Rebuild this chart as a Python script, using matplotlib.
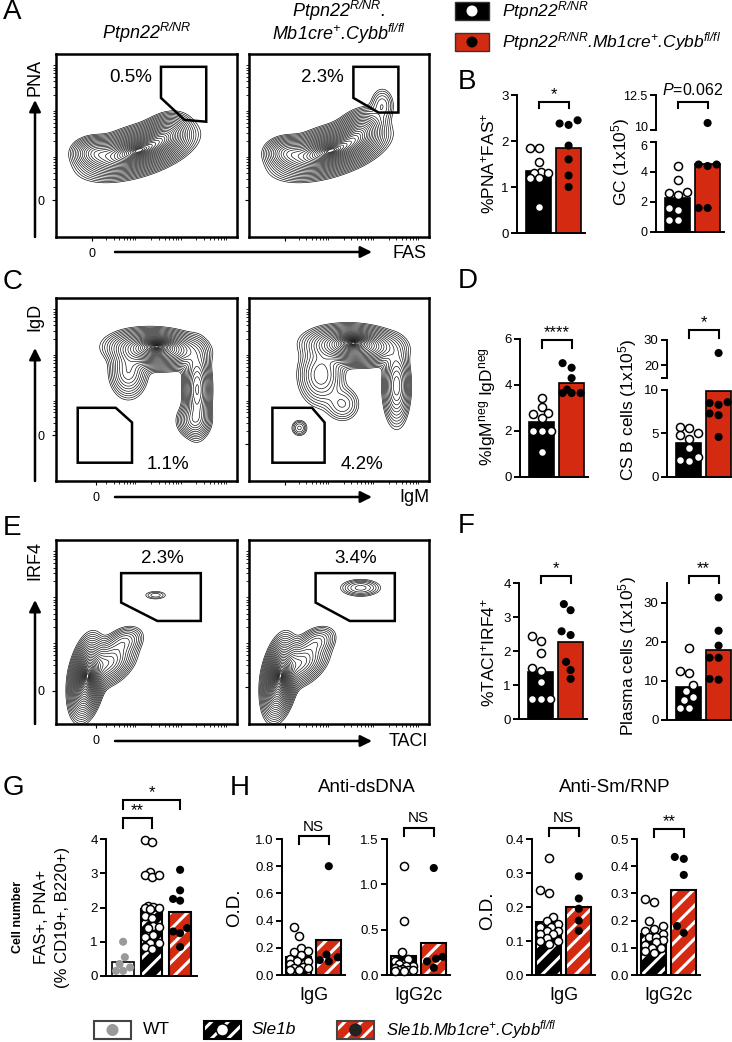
import numpy as np
import matplotlib
matplotlib.use("Agg")
import matplotlib.pyplot as plt
from matplotlib.patches import Rectangle, Circle, Polygon
from matplotlib.transforms import ScaledTranslation

plt.rcParams['font.family'] = 'Liberation Sans'
plt.rcParams['mathtext.fontset'] = 'custom'
plt.rcParams['mathtext.rm'] = 'Liberation Sans'
plt.rcParams['mathtext.it'] = 'Liberation Sans:italic'
plt.rcParams['mathtext.bf'] = 'Liberation Sans:bold'
plt.rcParams['mathtext.default'] = 'regular'
plt.rcParams['hatch.linewidth'] = 2.2

W, H = 732, 1042
RED = '#d42a12'
GREY = '#9a9a9a'

# ---------------- data ----------------
# B: %PNA+FAS+ and GC number
pna_ctrl = [1.85, 1.85, 1.55, 1.32, 1.30, 1.30, 1.20, 1.20, 0.57]
pna_ko = [2.35, 2.45, 2.38, 1.90, 1.60, 1.25, 1.00]
gc_ctrl = [4.4, 3.5, 2.7, 2.6, 2.5, 1.6, 1.5, 0.8, 0.8]
gc_ko = [10.5, 4.5, 4.5, 4.4, 1.6, 1.6]
# D: %IgMneg IgDneg and CS B cells
cs_pct_ctrl = [3.45, 3.05, 2.80, 2.75, 2.55, 2.0, 2.0, 2.0, 1.1]
cs_pct_ko = [4.95, 4.75, 4.30, 3.65, 3.65, 3.65, 3.80]
cs_num_ctrl = [5.8, 5.6, 5.0, 4.8, 4.4, 3.3, 2.3, 1.9, 1.8]
cs_num_ko = [24.8, 8.6, 8.3, 8.5, 7.3, 7.1, 4.6]
# F: %TACI+IRF4+ and plasma cells
pc_pct_ctrl = [2.45, 2.30, 1.95, 1.50, 1.40, 1.10, 0.60, 0.60, 0.60]
pc_pct_ko = [3.38, 3.20, 2.58, 2.47, 1.68, 1.44, 1.18]
pc_num_ctrl = [18.5, 12.5, 12.0, 9.0, 7.5, 6.0, 5.0, 3.0, 3.0]
pc_num_ko = [31.3, 22.8, 19.0, 15.9, 15.9, 10.3, 10.5]
# G: FAS+ PNA+ cells
g_wt = [1.0, 0.55, 0.35, 0.25, 0.15, 0.15]
g_sle = [3.97, 3.90, 3.05, 2.95, 2.90, 2.95, 2.05, 2.02, 2.00, 1.98, 1.95,
         1.75, 1.70, 1.45, 1.42, 1.40, 1.20, 1.15, 0.95, 0.95, 0.85, 0.80]
g_ko = [3.1, 2.5, 2.25, 2.2, 1.4, 1.3, 1.25, 0.85]
# H: autoantibody O.D.
ds_igg_sle = [0.35, 0.29, 0.20, 0.18, 0.17, 0.15, 0.12, 0.10, 0.10, 0.08,
              0.06, 0.05, 0.05, 0.04, 0.04]
ds_igg_ko = [0.80, 0.15, 0.13, 0.11, 0.10]
ds_g2c_sle = [1.20, 0.60, 0.25, 0.18, 0.15, 0.12, 0.10, 0.10, 0.08, 0.07,
              0.06, 0.05, 0.05, 0.04, 0.04]
ds_g2c_ko = [1.18, 0.20, 0.18, 0.15, 0.08]
sm_igg_sle = [0.345, 0.25, 0.24, 0.17, 0.16, 0.15, 0.14, 0.14, 0.13, 0.13,
              0.12, 0.12, 0.11, 0.10, 0.10, 0.09]
sm_igg_ko = [0.29, 0.225, 0.195, 0.16, 0.13]
sm_g2c_sle = [0.28, 0.27, 0.20, 0.18, 0.17, 0.16, 0.15, 0.14, 0.14, 0.13,
              0.12, 0.11, 0.10, 0.10, 0.09, 0.08]
sm_g2c_ko = [0.434, 0.427, 0.368, 0.18, 0.155]

# flow populations: (x, y, sx, sy, rho, peak) in gate-box fractions
pops_a_ctrl = [(0.45, 0.47, 0.12, 0.06, 0.5, 1.0), (0.22, 0.46, 0.06, 0.04, 0.0, 0.3),
               (0.60, 0.56, 0.06, 0.05, 0.3, 0.4)]
pops_a_ko = [(0.45, 0.47, 0.12, 0.06, 0.5, 1.0), (0.22, 0.46, 0.06, 0.04, 0.0, 0.3),
             (0.61, 0.57, 0.06, 0.055, 0.3, 0.45), (0.74, 0.72, 0.035, 0.05, 0.0, 0.07)]
pops_c_ctrl = [(0.55, 0.72, 0.11, 0.045, -0.1, 1.0), (0.56, 0.74, 0.05, 0.02, 0.0, 0.4),
               (0.78, 0.50, 0.035, 0.11, 0.0, 0.45), (0.76, 0.33, 0.045, 0.045, 0.0, 0.2),
               (0.40, 0.60, 0.05, 0.07, 0.0, 0.25)]
pops_c_ko = [(0.58, 0.74, 0.11, 0.045, -0.1, 1.0), (0.58, 0.76, 0.05, 0.02, 0.0, 0.4),
             (0.82, 0.52, 0.035, 0.10, 0.0, 0.35), (0.52, 0.42, 0.05, 0.05, 0.0, 0.1),
             (0.28, 0.29, 0.025, 0.025, 0.0, 0.08), (0.40, 0.58, 0.06, 0.08, 0.0, 0.25)]
pops_e_ctrl = [(0.17, 0.25, 0.04, 0.09, 0.3, 1.0), (0.28, 0.33, 0.07, 0.06, 0.4, 0.35),
               (0.38, 0.45, 0.05, 0.04, 0.3, 0.12), (0.55, 0.70, 0.04, 0.015, 0.0, 0.04)]
pops_e_ko = [(0.17, 0.25, 0.04, 0.09, 0.3, 1.0), (0.28, 0.33, 0.07, 0.06, 0.4, 0.35),
             (0.38, 0.45, 0.05, 0.04, 0.3, 0.12), (0.62, 0.74, 0.06, 0.025, 0.0, 0.09)]

fig = plt.figure(figsize=(7.32, 10.42), dpi=100)


def add_ax(l, t, r, b):
    return fig.add_axes([l / W, 1 - b / H, (r - l) / W, (b - t) / H])


def style(ax, bottom=True, size=9.5):
    for s in ['top', 'right']:
        ax.spines[s].set_visible(False)
    for s in ['left', 'bottom']:
        ax.spines[s].set_linewidth(1.4)
    ax.tick_params(direction='out', length=4, width=1.4, labelsize=size, pad=2)
    ax.set_xticks([])
    ax.patch.set_alpha(0)
    if not bottom:
        ax.spines['bottom'].set_visible(False)


def swarm_px(ys, d=8.6, maxoff=9.0):
    grid = sorted(np.linspace(-maxoff, maxoff, 9), key=abs)
    placed, offs = [], np.zeros(len(ys))
    for i in np.argsort(ys):
        y = ys[i]
        best, bestd = 0.0, -1.0
        for c in grid:
            md = min([np.hypot(c - xp, y - yp) for xp, yp in placed] + [1e9])
            if md >= d:
                best = c
                break
            if md > bestd:
                best, bestd = c, md
        offs[i] = best
        placed.append((best, y))
    return offs


def dots(x0, vals, kind, lo, hi=None, split=None, maxoff=9.0):
    axs = [hi if (hi is not None and v > split) else lo for v in vals]
    pts = np.array([a.transData.transform((x0, v)) for a, v in zip(axs, vals)])
    offs = swarm_px(pts[:, 1], maxoff=maxoff)
    if kind == 'open':
        kw = dict(facecolor='white', edgecolor='black', linewidths=1.1)
    elif kind == 'grey':
        kw = dict(facecolor=GREY, edgecolor='none')
    else:
        kw = dict(facecolor='black', edgecolor='none')
    for a, p, o in zip(axs, pts, offs):
        x, y = a.transData.inverted().transform((p[0] + o, p[1]))
        a.scatter([x], [y], s=34, zorder=5, clip_on=False, **kw)


def bars(ax, groups, faces, hatched, width=0.83):
    xs = np.arange(len(groups))
    means = [np.mean(g) for g in groups]
    for x, m, f, h in zip(xs, means, faces, hatched):
        if h:
            ax.bar(x, m, width=width, color=f, edgecolor='white', hatch='//', lw=0, zorder=1)
            ax.bar(x, m, width=width, fill=False, edgecolor='black', lw=1.5, zorder=2)
        else:
            ax.bar(x, m, width=width, color=f, edgecolor='black', lw=1.2, zorder=1)


def bar_ax(l, t, b, ylim, ticks, xlim=(-0.72, 1.55), unit=30):
    r = l + (xlim[1] - xlim[0]) * unit
    ax = add_ax(l, t, r, b)
    ax.set_xlim(*xlim)
    ax.set_ylim(*ylim)
    style(ax)
    ax.set_yticks(ticks)
    return ax


def broken_ax(l, lo, hi, unit=30, xlim=(-0.72, 1.55), size=9.5):
    # lo / hi: (top_px, bottom_px, ylim, ticks, labels)
    axes = []
    for k, seg in enumerate([lo, hi]):
        t, b, yl, tk, lb = seg
        r = l + (xlim[1] - xlim[0]) * unit
        ax = add_ax(l, t, r, b)
        ax.set_xlim(*xlim)
        ax.set_ylim(*yl)
        style(ax, bottom=(k == 0), size=size)
        ax.set_yticks(tk)
        ax.set_yticklabels(lb)
        axes.append(ax)
    return axes


def shift_label(ax, text, dy_pt):
    for lab in ax.get_yticklabels():
        if lab.get_text() == text:
            lab.set_transform(lab.get_transform() + ScaledTranslation(0, dy_pt / 72, fig.dpi_scale_trans))


def flow(l, t, r, b, pops, gate, pct, pct_xy, zero=None):
    ax = add_ax(l, t, r, b)
    g = np.linspace(0, 1, 260)
    X, Y = np.meshgrid(g, g)
    Z = np.zeros_like(X)
    for cx, cy, sx, sy, rho, w in pops:
        dx, dy = (X - cx) / sx, (Y - cy) / sy
        Z += w * np.exp(-0.5 / (1 - rho ** 2) * (dx ** 2 - 2 * rho * dx * dy + dy ** 2))
    # rings sparse at the rim, packed towards the core
    rings = 2.9 * np.linspace(1, 0.1, 28) ** 1.3
    levels = Z.max() * np.exp(-rings ** 2 / 2)
    ax.contour(X, Y, Z, levels=levels, colors='k', linewidths=0.45)
    ax.add_patch(Polygon(gate, closed=True, fill=False, lw=1.8, ec='k', zorder=4))
    ax.text(pct_xy[0], pct_xy[1], pct, fontsize=13.5, ha='center', va='center')
    ax.set_xlim(0, 1)
    ax.set_ylim(0, 1)
    for s in ax.spines.values():
        s.set_linewidth(1.8)
    minor = []
    for d0 in [0.2, 0.45, 0.7]:
        minor += list(d0 + 0.25 * np.log10(np.arange(2, 10)))
    ax.set_xticks(minor, minor=True)
    ax.set_yticks(minor, minor=True)
    ax.tick_params(which='minor', length=2, width=0.6)
    ax.tick_params(which='major', length=3, width=0.8, labelsize=9, pad=5)
    if zero is not None:
        ax.set_xticks([zero[0]], ['0'])
        ax.set_yticks([zero[1]], ['0'])
    else:
        ax.set_xticks([0.2], [''])
        ax.set_yticks([0.2], [''])
    return ax


# ---------------- flow panels A, C, E ----------------
flow(56, 54, 237, 237, pops_a_ctrl,
     [(0.58, 0.93), (0.83, 0.93), (0.83, 0.63), (0.71, 0.64), (0.58, 0.76)],
     '0.5%', (0.41, 0.87), zero=(0.2, 0.2))
flow(249, 54, 429, 237, pops_a_ko,
     [(0.58, 0.93), (0.83, 0.93), (0.83, 0.68), (0.72, 0.68), (0.58, 0.76)],
     '2.3%', (0.41, 0.87))
flow(56, 298, 237, 481, pops_c_ctrl,
     [(0.12, 0.40), (0.33, 0.40), (0.42, 0.32), (0.42, 0.10), (0.12, 0.10)],
     '1.1%', (0.62, 0.09), zero=(0.22, 0.25))
flow(249, 298, 429, 481, pops_c_ko,
     [(0.13, 0.40), (0.35, 0.40), (0.42, 0.32), (0.42, 0.10), (0.13, 0.10)],
     '4.2%', (0.63, 0.09))
flow(56, 540, 237, 724, pops_e_ctrl,
     [(0.36, 0.82), (0.80, 0.82), (0.80, 0.56), (0.56, 0.56), (0.36, 0.66)],
     '2.3%', (0.59, 0.90), zero=(0.22, 0.18))
flow(249, 540, 429, 724, pops_e_ko,
     [(0.37, 0.82), (0.81, 0.82), (0.81, 0.56), (0.56, 0.56), (0.37, 0.66)],
     '3.4%', (0.59, 0.90))

# ---------------- bar panels B, D, F ----------------
ctrl_faces, ctrl_hatch = ['black', RED], [False, False]

b1 = bar_ax(517, 95, 233, (0, 3), [0, 1, 2, 3])
bars(b1, [pna_ctrl, pna_ko], ctrl_faces, ctrl_hatch)
dots(0, pna_ctrl, 'open', b1)
dots(1, pna_ko, 'fill', b1)

b2_lo, b2_hi = broken_ax(656, (142, 232, (0, 6), [0, 2, 4, 6], ['0', '2', '4', '6']),
                         (95, 130, (10, 12.5), [10, 12.5], ['10', '12.5']), size=9)
shift_label(b2_hi, '10', 2.5)
shift_label(b2_lo, '6', -2.5)
bars(b2_lo, [gc_ctrl, gc_ko], ctrl_faces, ctrl_hatch)
dots(0, gc_ctrl, 'open', b2_lo, b2_hi, 8)
dots(1, gc_ko, 'fill', b2_lo, b2_hi, 8)

d1 = bar_ax(520, 339, 477, (0, 6), [0, 2, 4, 6])
bars(d1, [cs_pct_ctrl, cs_pct_ko], ctrl_faces, ctrl_hatch)
dots(0, cs_pct_ctrl, 'open', d1)
dots(1, cs_pct_ko, 'fill', d1)

d2_lo, d2_hi = broken_ax(667, (390, 477, (0, 10), [0, 5, 10], ['0', '5', '10']),
                         (340, 377.5, (15, 30), [15, 20, 30], ['', '20', '30']))
bars(d2_lo, [cs_num_ctrl, cs_num_ko], ctrl_faces, ctrl_hatch)
dots(0, cs_num_ctrl, 'open', d2_lo, d2_hi, 12)
dots(1, cs_num_ko, 'fill', d2_lo, d2_hi, 12)

f1 = bar_ax(519, 583, 719, (0, 4), [0, 1, 2, 3, 4])
bars(f1, [pc_pct_ctrl, pc_pct_ko], ctrl_faces, ctrl_hatch)
dots(0, pc_pct_ctrl, 'open', f1)
dots(1, pc_pct_ko, 'fill', f1)

f2 = bar_ax(667, 583, 720, (0, 35), [0, 10, 20, 30])
bars(f2, [pc_num_ctrl, pc_num_ko], ctrl_faces, ctrl_hatch)
dots(0, pc_num_ctrl, 'open', f2)
dots(1, pc_num_ko, 'fill', f2)

# ---------------- G ----------------
gax = bar_ax(106, 839, 976, (0, 4), [0, 1, 2, 3, 4], xlim=(-0.6, 2.6), unit=28.5)
bars(gax, [g_wt, g_sle, g_ko], ['white', 'black', RED], [False, True, True], width=0.75)
dots(0, g_wt, 'grey', gax, maxoff=7)
dots(1, g_sle, 'open', gax, maxoff=7)
dots(2, g_ko, 'fill', gax, maxoff=7)

# ---------------- H ----------------
h_specs = [(282, (0, 1.0), [0, 0.2, 0.4, 0.6, 0.8, 1.0], ds_igg_sle, ds_igg_ko),
           (387, (0, 1.5), [0, 0.5, 1.0, 1.5], ds_g2c_sle, ds_g2c_ko),
           (532, (0, 0.4), [0, 0.1, 0.2, 0.3, 0.4], sm_igg_sle, sm_igg_ko),
           (637, (0, 0.5), [0, 0.1, 0.2, 0.3, 0.4, 0.5], sm_g2c_sle, sm_g2c_ko)]
h_axes = []
for l, yl, tk, sle, ko in h_specs:
    ax = bar_ax(l, 839, 975, yl, tk, xlim=(-0.56, 1.55))
    ax.set_yticklabels(['%.1f' % t for t in tk])
    bars(ax, [sle, ko], ['black', RED], [True, True])
    dots(0, sle, 'open', ax)
    dots(1, ko, 'fill', ax)
    h_axes.append(ax)

# ---------------- overlay: labels, arrows, brackets, legends ----------------
ov = fig.add_axes([0, 0, 1, 1], zorder=10)
ov.set_xlim(0, W)
ov.set_ylim(H, 0)
ov.axis('off')
ov.patch.set_alpha(0)


def txt(x, y, s, size=12.5, **kw):
    kw.setdefault('ha', 'center')
    kw.setdefault('va', 'center')
    ov.text(x, y, s, fontsize=size, **kw)


def xpix(ax, x):
    return ax.transData.transform((x, 0))[0]


def bracket(ax, x0, x1, y, leg, label, ly, size=12, style='normal'):
    a, b = xpix(ax, x0), xpix(ax, x1)
    ov.plot([a, a, b, b], [leg, y, y, leg], color='k', lw=1.5, solid_joinstyle='miter')
    txt((a + b) / 2, ly, label, size=size, style=style)


for letter, x, y in [('A', 3, 12), ('B', 458, 82), ('C', 3, 282), ('D', 458, 281),
                     ('E', 3, 528), ('F', 458, 526), ('G', 3, 788), ('H', 230, 788)]:
    txt(x, y, letter, size=20, ha='left')

txt(147, 33, 'Ptpn22$^{R/NR}$', size=13, style='italic')
txt(339, 11, 'Ptpn22$^{R/NR}$.', size=13, style='italic')
txt(339, 34, 'Mb1cre$^{+}$.Cybb$^{fl/fl}$', size=13, style='italic')

arrow = dict(arrowstyle='-|>', color='k', lw=1.8, mutation_scale=17, shrinkA=0, shrinkB=0)
for top, bot, xy, lab_y, lab_x, ylab, xlab in [(100, 237, 252, 77, 409, 'PNA', 'FAS'),
                                               (348, 481, 497, 317, 414, 'IgD', 'IgM'),
                                               (600, 724, 741, 560, 408, 'IRF4', 'TACI')]:
    ov.annotate('', xy=(35, top), xytext=(35, bot), arrowprops=arrow)
    ov.annotate('', xy=(372, xy), xytext=(115, xy), arrowprops=arrow)
    txt(35, lab_y, ylab, size=13, rotation=90)
    txt(lab_x, xy + 1, xlab, size=13)

# top legend
for yc, face, dot, lab in [(11, 'black', 'white', 'Ptpn22$^{R/NR}$'),
                           (42, RED, 'black', 'Ptpn22$^{R/NR}$.Mb1cre$^{+}$.Cybb$^{fl/fl}$')]:
    ov.add_patch(Rectangle((455, yc - 9), 34, 18, facecolor=face, edgecolor='#333333', lw=1))
    ov.add_patch(Circle((472, yc), 5.5, facecolor=dot, edgecolor='none'))
    txt(502, yc, lab, size=12.5, style='italic', ha='left')

# y labels of bar panels
txt(488, 163, '%PNA$^{+}$FAS$^{+}$', rotation=90)
txt(621, 162, 'GC (1x10$^{5}$)', rotation=90)
txt(488, 407, '%IgM$^{neg}$ IgD$^{neg}$', rotation=90)
txt(628, 410, 'CS B cells (1x10$^{5}$)', rotation=90)
txt(488, 652, '%TACI$^{+}$IRF4$^{+}$', rotation=90)
txt(628, 656, 'Plasma cells (1x10$^{5}$)', rotation=90)
txt(18, 917, 'Cell number', size=9, weight='bold', rotation=90)
txt(42, 917, 'FAS+, PNA+', size=12, rotation=90)
txt(62, 917, '(% CD19+, B220+)', size=12, rotation=90)
txt(235, 908, 'O.D.', size=13.5, rotation=90)
txt(488, 911, 'O.D.', size=13.5, rotation=90)
txt(367, 787, 'Anti-dsDNA', size=13.5)
txt(615, 787, 'Anti-Sm/RNP', size=13.5)
for ax, lab in zip(h_axes, ['IgG', 'IgG2c', 'IgG', 'IgG2c']):
    txt((xpix(ax, 0) + xpix(ax, 1)) / 2, 995, lab, size=13)

# significance
bracket(b1, 0, 1, 102, 108, '*', 95)
bracket(b2_hi, 0, 1, 102, 108, '$\\mathit{P}$=0.062', 90, size=11.5)
bracket(d1, 0, 1, 340, 348, '****', 333)
bracket(d2_hi, 0, 1, 330, 338, '*', 323)
bracket(f1, 0, 1, 576, 583, '*', 569)
bracket(f2, 0, 1, 576, 583, '**', 569)
bracket(gax, 0, 1, 818, 828, '**', 811)
bracket(gax, 0, 2, 800, 809, '*', 793)
bracket(h_axes[0], 0, 1, 836, 844, 'NS', 827, size=11)
bracket(h_axes[1], 0, 1, 828, 836, 'NS', 818, size=11)
bracket(h_axes[2], 0, 1, 828, 836, 'NS', 818, size=11)
bracket(h_axes[3], 0, 1, 829, 837, '**', 822)

# bottom legend
ov.add_patch(Rectangle((94, 1021), 37, 18, facecolor='white', edgecolor='#444444', lw=1.5))
ov.add_patch(Circle((112.5, 1030), 6, facecolor=GREY, edgecolor='none'))
txt(143, 1030, 'WT', size=12.5, ha='left')
ov.add_patch(Rectangle((204, 1021), 37, 18, facecolor='black', edgecolor='white', hatch='//', lw=0))
ov.add_patch(Rectangle((204, 1021), 37, 18, fill=False, edgecolor='black', lw=1.5))
ov.add_patch(Circle((222.5, 1030), 6, facecolor='white', edgecolor='black', lw=1))
txt(252, 1030, 'Sle1b', size=12.5, style='italic', ha='left')
ov.add_patch(Rectangle((337, 1021), 37, 18, facecolor=RED, edgecolor='white', hatch='//', lw=0))
ov.add_patch(Rectangle((337, 1021), 37, 18, fill=False, edgecolor='#444444', lw=1.5))
ov.add_patch(Circle((355.5, 1030), 6.5, facecolor='#222222', edgecolor='none'))
txt(386, 1030, 'Sle1b.Mb1cre$^{+}$.Cybb$^{fl/fl}$', size=12, style='italic', ha='left')

fig.savefig('out.png', dpi=100)
